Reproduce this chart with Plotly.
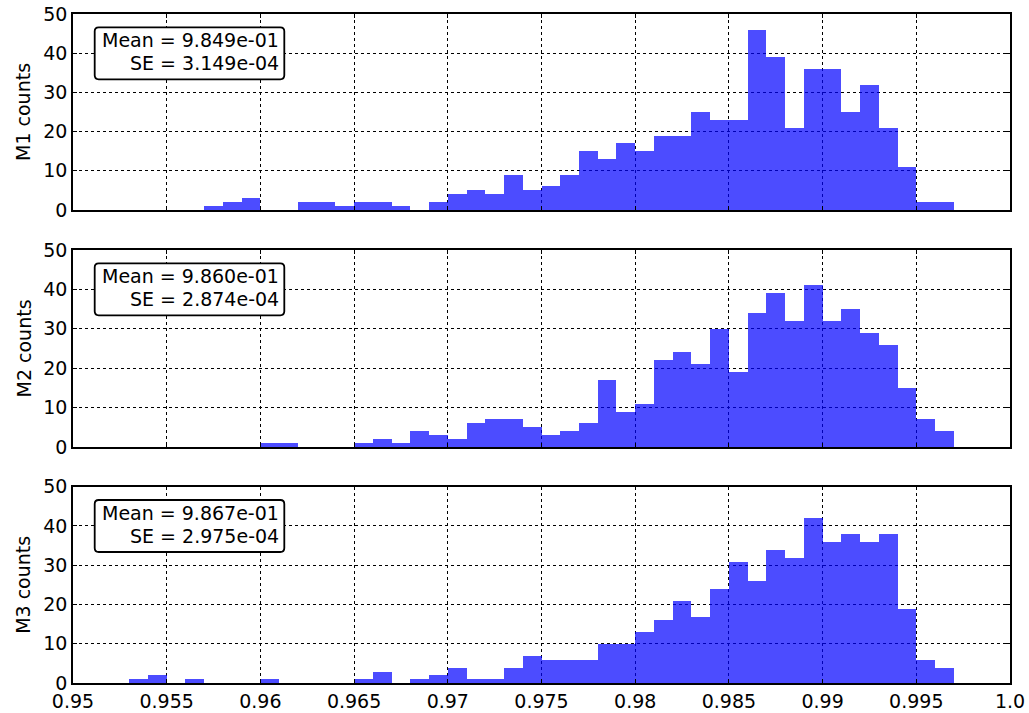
import plotly.graph_objects as go

# ---- data -------------------------------------------------------------
bin_start = 0.950
bin_width = 0.001
n_bins = 50

m1_counts = [0, 0, 0, 0, 0, 0, 0, 1, 2, 3,
             0, 0, 2, 2, 1, 2, 2, 1, 0, 2,
             4, 5, 4, 9, 5, 6, 9, 15, 13, 17,
             15, 19, 19, 25, 23, 23, 46, 39, 21, 36,
             36, 25, 32, 21, 11, 2, 2, 0, 0, 0]
m2_counts = [0, 0, 0, 0, 0, 0, 0, 0, 0, 0,
             1, 1, 0, 0, 0, 1, 2, 1, 4, 3,
             2, 6, 7, 7, 5, 3, 4, 6, 17, 9,
             11, 22, 24, 21, 30, 19, 34, 39, 32, 41,
             32, 35, 29, 26, 15, 7, 4, 0, 0, 0]
m3_counts = [0, 0, 0, 1, 2, 0, 1, 0, 0, 0,
             1, 0, 0, 0, 0, 1, 3, 0, 1, 2,
             4, 1, 1, 4, 7, 6, 6, 6, 10, 10,
             13, 16, 21, 17, 24, 31, 26, 34, 32, 42,
             36, 38, 36, 38, 19, 6, 4, 0, 0, 0]

series_names = ["M1", "M2", "M3"]
series_counts = [m1_counts, m2_counts, m3_counts]
mean_labels = ["9.849e-01", "9.860e-01", "9.867e-01"]
se_labels = ["3.149e-04", "2.874e-04", "2.975e-04"]

x_tick_vals = [0.95, 0.955, 0.96, 0.965, 0.97, 0.975, 0.98, 0.985, 0.99, 0.995, 1.0]
x_tick_text = ["0.95", "0.955", "0.96", "0.965", "0.97", "0.975", "0.98",
               "0.985", "0.99", "0.995", "1.0"]
y_tick_vals = [0, 10, 20, 30, 40, 50]

# ---- layout geometry (pixels) ----------------------------------------
W, H = 1029, 713
ML, MR, MT, MB = 73, 19, 14, 30
plot_w = W - ML - MR
plot_h_total = H - MT - MB
panel_px = [(14, 210), (250, 447), (486.7, 683)]  # top, bottom in page px

FONT = "DejaVu Sans"
FS = 19

fig = go.Figure()
centers = [bin_start + bin_width * (i + 0.5) for i in range(n_bins)]

axis_common = dict(
    showgrid=True, gridcolor="black", griddash="dot", gridwidth=1,
    showline=True, linecolor="black", linewidth=1.5, mirror="ticks",
    ticks="inside", ticklen=4, tickcolor="black", tickwidth=1,
    zeroline=False, automargin=False,
    tickfont=dict(family=FONT, size=FS, color="black"),
)

shapes = []
annotations = []
for k, (name, counts) in enumerate(zip(series_names, series_counts)):
    idx = "" if k == 0 else str(k + 1)
    fig.add_trace(go.Bar(
        x=centers, y=counts, width=bin_width,
        marker=dict(color="rgba(0,0,255,0.7)", line=dict(width=0)),
        xaxis="x" + idx, yaxis="y" + idx, showlegend=False,
        hoverinfo="x+y",
    ))
    top, bot = panel_px[k]
    d0 = (H - MB - bot) / plot_h_total
    d1 = (H - MB - top) / plot_h_total
    ph = bot - top
    fig.update_layout(**{
        "xaxis" + idx: dict(
            axis_common, domain=[0, 1], range=[0.95, 1.0], anchor="y" + idx,
            tickvals=x_tick_vals, ticktext=x_tick_text,
            showticklabels=(k == 2),
        ),
        "yaxis" + idx: dict(
            axis_common, domain=[d0, d1], range=[0, 50], anchor="x" + idx,
            tickvals=y_tick_vals,
        ),
    })
    # rounded stats box
    l, r, t, b, rad = 21.7, 211.3, -13.3, -65.3, 4
    path = (f"M {l+rad},{t} L {r-rad},{t} Q {r},{t} {r},{t-rad} "
            f"L {r},{b+rad} Q {r},{b} {r-rad},{b} L {l+rad},{b} "
            f"Q {l},{b} {l},{b+rad} L {l},{t-rad} Q {l},{t} {l+rad},{t} Z")
    shapes.append(dict(
        type="path", path=path,
        xref="x" + idx + " domain", yref="y" + idx + " domain",
        xsizemode="pixel", ysizemode="pixel", xanchor=0, yanchor=1,
        line=dict(color="black", width=1.8), fillcolor="white", layer="above",
    ))
    for txt, dy in ((f"Mean = {mean_labels[k]}", 26.2), (f"SE = {se_labels[k]}", 49.3)):
        annotations.append(dict(
            text=txt, showarrow=False,
            xref="x" + idx + " domain", yref="y" + idx + " domain",
            x=207.5 / plot_w, y=1 - dy / ph, xanchor="right", yanchor="middle",
            font=dict(family=FONT, size=FS, color="black"),
        ))
    annotations.append(dict(
        text=f"{name} counts", showarrow=False, textangle=-90,
        xref="x" + idx + " domain", yref="y" + idx + " domain",
        x=-(ML - 23) / plot_w, y=0.5, xanchor="center", yanchor="middle",
        font=dict(family=FONT, size=FS, color="black"),
    ))

fig.update_layout(
    width=W, height=H, autosize=False,
    margin=dict(l=ML, r=MR, t=MT, b=MB, autoexpand=False),
    plot_bgcolor="white", paper_bgcolor="white",
    bargap=0, barmode="overlay",
    shapes=shapes, annotations=annotations,
    font=dict(family=FONT, size=FS, color="black"),
)

fig.write_html("out.html")
